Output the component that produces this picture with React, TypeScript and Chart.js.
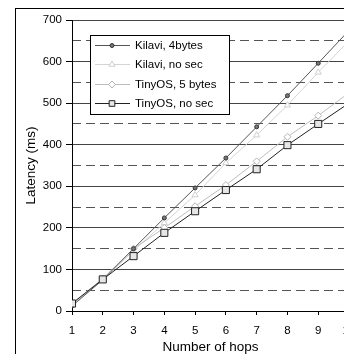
import React, { useEffect, useRef } from 'react';
import { Chart, registerables } from 'chart.js';
import { drawPoint } from 'chart.js/helpers';

Chart.register(...registerables);

const hops = [1, 2, 3, 4, 5, 6, 7, 8, 9, 10];
const kilavi4bytes = [12, 75, 150, 224, 296, 368, 443, 518, 596, 675];
const kilaviNoSec = [15, 75, 145, 212, 279, 356, 423, 495, 574, 650];
const tinyOS5bytes = [18, 78, 150, 200, 252, 303, 360, 419, 470, 525];
const tinyOSNoSec = [18, 76, 132, 188, 240, 291, 341, 399, 450, 500];
const seriesLabels = ['Kilavi, 4bytes', 'Kilavi, no sec', 'TinyOS, 5 bytes', 'TinyOS, no sec'];
const dashedLevels = [50, 150, 250, 350, 450, 550, 650];

const FONT = "'Liberation Sans', Arial, sans-serif";

const toPoints = (vals: number[]) => hops.map((h, i) => ({ x: h, y: vals[i] }));

const boxLegend = {
  id: 'boxLegend',
  afterDraw(chart: any) {
    const { ctx, chartArea } = chart;
    const x0 = chartArea.left + 18;
    const y0 = chartArea.top + 15;
    const w = 139;
    const h = 79;
    ctx.save();
    ctx.fillStyle = '#fff';
    ctx.fillRect(x0, y0, w, h);
    ctx.strokeStyle = '#000';
    ctx.lineWidth = 1;
    ctx.setLineDash([]);
    ctx.strokeRect(x0 + 0.5, y0 + 0.5, w, h);
    chart.data.datasets.forEach((ds: any, i: number) => {
      const cy = Math.round(y0 + 10 + i * 19.4) + 0.5;
      ctx.strokeStyle = ds.borderColor;
      ctx.lineWidth = ds.borderWidth;
      ctx.beginPath();
      ctx.moveTo(x0 + 5, cy);
      ctx.lineTo(x0 + 40, cy);
      ctx.stroke();
      ctx.fillStyle = ds.pointBackgroundColor;
      ctx.strokeStyle = ds.pointBorderColor;
      ctx.lineWidth = ds.pointBorderWidth;
      drawPoint(ctx, { pointStyle: ds.pointStyle, radius: Math.min(ds.pointRadius, 4), borderWidth: ds.pointBorderWidth, rotation: 0 }, x0 + 22, cy);
      ctx.fillStyle = '#000';
      ctx.font = `11.5px ${FONT}`;
      ctx.textBaseline = 'middle';
      ctx.textAlign = 'left';
      ctx.fillText(ds.label, x0 + 45, cy);
    });
    ctx.restore();
  },
};

export default function App() {
  const ref = useRef<HTMLCanvasElement>(null);
  useEffect(() => {
    if (!ref.current) return;
    const chart = new Chart(ref.current, {
      type: 'line',
      data: {
        datasets: [
          {
            label: seriesLabels[0],
            data: toPoints(kilavi4bytes),
            borderColor: '#555',
            borderWidth: 1,
            pointStyle: 'circle',
            pointRadius: 2,
            pointBackgroundColor: '#777',
            pointBorderColor: '#333',
            pointBorderWidth: 1,
            order: 2,
          },
          {
            label: seriesLabels[1],
            data: toPoints(kilaviNoSec),
            borderColor: '#d4d4d4',
            borderWidth: 1,
            pointStyle: 'triangle',
            pointRadius: 3.5,
            pointBackgroundColor: '#fff',
            pointBorderColor: '#cfcfcf',
            pointBorderWidth: 1,
            order: 4,
          },
          {
            label: seriesLabels[2],
            data: toPoints(tinyOS5bytes),
            borderColor: '#bdbdbd',
            borderWidth: 1,
            pointStyle: 'rectRot',
            pointRadius: 3.5,
            pointBackgroundColor: '#fff',
            pointBorderColor: '#b5b5b5',
            pointBorderWidth: 1,
            order: 3,
          },
          {
            label: seriesLabels[3],
            data: toPoints(tinyOSNoSec),
            borderColor: '#222',
            borderWidth: 1,
            pointStyle: 'rect',
            pointRadius: 5,
            pointBackgroundColor: '#e6e6e6',
            pointBorderColor: '#222',
            pointBorderWidth: 1,
            order: 1,
          },
        ],
      },
      options: {
        responsive: false,
        animation: false,
        devicePixelRatio: 1,
        layout: { padding: { top: 11, right: 27, left: 0, bottom: 0 } },
        plugins: { legend: { display: false }, tooltip: { enabled: false } },
        elements: { line: { tension: 0 } },
        scales: {
          x: {
            type: 'linear',
            min: 1,
            max: 10,
            ticks: { stepSize: 1, color: '#000', font: { family: FONT, size: 11.5 }, padding: 9, maxRotation: 0, autoSkip: false },
            grid: { drawOnChartArea: false, drawTicks: true, tickLength: 4, color: '#000' },
            border: { color: '#000', width: 1 },
            title: { display: true, text: 'Number of hops', color: '#000', font: { family: FONT, size: 13.5 }, padding: { top: 0, bottom: 14 } },
            afterFit(s: any) { s.height = 58; },
          },
          y: {
            type: 'linear',
            position: 'left',
            min: 0,
            max: 700,
            ticks: { stepSize: 100, color: '#000', font: { family: FONT, size: 11.5 }, padding: 4 },
            grid: { color: '#444', tickLength: 6, tickColor: '#000' },
            border: { color: '#000', width: 1 },
            title: { display: true, text: 'Latency (ms)', color: '#000', font: { family: FONT, size: 13.5 }, padding: { top: 7, bottom: 0 } },
            afterFit(s: any) { s.width = 56; },
          },
          y2: {
            type: 'linear',
            position: 'left',
            min: 0,
            max: 700,
            afterBuildTicks(s: any) { s.ticks = dashedLevels.map((v) => ({ value: v })); },
            ticks: { display: false },
            grid: { color: '#555', drawTicks: false },
            border: { display: false, dash: [9, 5] },
            afterFit(s: any) { s.width = 0; },
          },
        },
      },
      plugins: [boxLegend],
    } as any);
    return () => chart.destroy();
  }, []);

  return (
    <div style={{ position: 'fixed', left: 0, top: 0, width: 344, height: 354, overflow: 'hidden', background: '#fff' }}>
      <div style={{ position: 'absolute', left: 15, top: 8, width: 380, height: 380, border: '1px solid #000' }}>
        <canvas ref={ref} width={360} height={360} style={{ display: 'block', width: 360, height: 360 }} />
      </div>
    </div>
  );
}
